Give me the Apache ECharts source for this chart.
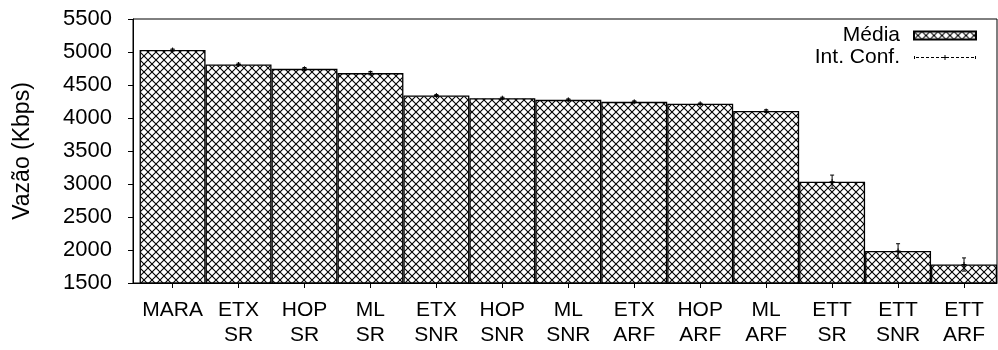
<!DOCTYPE html>
<html>
<head>
<meta charset="utf-8">
<script src="https://cdn.jsdelivr.net/npm/echarts@6/dist/echarts.min.js"></script>
<style>
html,body{margin:0;padding:0;background:#fff;}
#chart{width:998px;height:350px;}
</style>
</head>
<body>
<div id="chart"></div>
<script>
// ---- data ----
const categories = ['MARA', 'ETX\nSR', 'HOP\nSR', 'ML\nSR', 'ETX\nSNR', 'HOP\nSNR', 'ML\nSNR', 'ETX\nARF', 'HOP\nARF', 'ML\nARF', 'ETT\nSR', 'ETT\nSNR', 'ETT\nARF'];
const meanValues = [5030, 4810, 4745, 4680, 4340, 4300, 4275, 4245, 4215, 4105, 3035, 1985, 1780];
const ciHalf = [15, 20, 20, 25, 15, 15, 15, 15, 12, 20, 100, 110, 100];
const yTicks = [1500, 2000, 2500, 3000, 3500, 4000, 4500, 5000, 5500];
const yName = 'Vazão (Kbps)';
const legendNames = ['Média', 'Int. Conf.'];

// ---- crosshatch pattern ----
function makeHatch() {
  const s = 8;
  const c = document.createElement('canvas');
  c.width = s; c.height = s;
  const g = c.getContext('2d');
  g.fillStyle = '#fff';
  g.fillRect(0, 0, s, s);
  g.strokeStyle = '#000';
  g.lineWidth = 1.1;
  g.beginPath();
  g.moveTo(-1, -1); g.lineTo(s + 1, s + 1);
  g.moveTo(s + 1, -1); g.lineTo(-1, s + 1);
  g.stroke();
  return c;
}
const hatch = makeHatch();

// legend icon for the confidence interval (dashed line with + and end ticks)
function ciIcon() {
  let p = 'path://M0,0 M62,8 ';
  for (let x = 2; x < 60; x += 5) {
    p += 'M' + x + ',3.5 L' + (x + 3) + ',3.5 L' + (x + 3) + ',4.5 L' + x + ',4.5 Z ';
  }
  p += 'M0,2.5 L1,2.5 L1,5.5 L0,5.5 Z ';
  p += 'M61,2.5 L62,2.5 L62,5.5 L61,5.5 Z ';
  p += 'M30.5,1.5 L31.5,1.5 L31.5,6.5 L30.5,6.5 Z ';
  p += 'M28.5,3.5 L33.5,3.5 L33.5,4.5 L28.5,4.5 Z';
  return p;
}

const FONT = 'Liberation Sans';
const idx = categories.map((_, i) => i);
const barData = meanValues.map((v, i) => [i, v]);
const ciData = meanValues.map((v, i) => [i, v, v - ciHalf[i], v + ciHalf[i]]);

const chart = echarts.init(document.getElementById('chart'), null, {renderer: 'canvas'});
chart.setOption({
  animation: false,
  backgroundColor: '#fff',
  textStyle: {fontFamily: FONT},
  grid: {left: 133, right: 1, top: 19, bottom: 67, show: true, borderColor: '#000', borderWidth: 1, backgroundColor: 'transparent'},
  legend: {
    orient: 'vertical',
    right: 16,
    top: 20,
    align: 'right',
    itemWidth: 62,
    itemHeight: 8,
    itemGap: 1,
    symbolKeepAspect: false,
    textStyle: {fontFamily: FONT, fontSize: 21, color: '#000', padding: [0, 9, 0, 0]},
    data: [
      {name: legendNames[0], icon: 'rect'},
      {name: legendNames[1], icon: ciIcon()}
    ]
  },
  xAxis: {
    type: 'value',
    min: -0.6,
    max: 12.5,
    splitLine: {show: false},
    axisLine: {show: true, onZero: false, lineStyle: {color: '#000', width: 1}},
    axisTick: {show: true, customValues: idx, length: 5, inside: false, lineStyle: {color: '#000'}},
    axisLabel: {
      customValues: idx,
      formatter: v => categories[Math.round(v)],
      fontFamily: FONT, fontSize: 21, color: '#000', lineHeight: 25, margin: 15, align: 'center'
    }
  },
  yAxis: {
    type: 'value',
    min: yTicks[0],
    max: yTicks[yTicks.length - 1],
    interval: 500,
    name: yName,
    nameLocation: 'middle',
    nameRotate: 90,
    nameGap: 99,
    nameTextStyle: {fontFamily: FONT, fontSize: 23, color: '#000'},
    splitLine: {show: false},
    axisLine: {show: true, onZero: false, lineStyle: {color: '#000', width: 1}},
    axisTick: {show: true, length: 5, inside: false, lineStyle: {color: '#000'}},
    axisLabel: {fontFamily: FONT, fontSize: 22, color: '#000', margin: 21, formatter: v => String(v)}
  },
  series: [
    {
      name: legendNames[0],
      type: 'bar',
      data: barData,
      barWidth: '100%',
      itemStyle: {color: {image: hatch, repeat: 'repeat'}, borderColor: '#000', borderWidth: 1.3},
      emphasis: {disabled: true}
    },
    {
      name: legendNames[1],
      type: 'custom',
      data: ciData,
      itemStyle: {color: '#000'},
      z: 5,
      renderItem: function (params, api) {
        const x = api.value(0);
        const m = api.coord([x, api.value(1)]);
        const lo = api.coord([x, api.value(2)]);
        const hi = api.coord([x, api.value(3)]);
        const cap = 2;
        const ps = 2.5;
        const st = {stroke: '#000', lineWidth: 1, fill: null};
        return {
          type: 'group',
          children: [
            {type: 'line', shape: {x1: m[0], y1: lo[1], x2: m[0], y2: hi[1]}, style: st},
            {type: 'line', shape: {x1: m[0] - cap, y1: lo[1], x2: m[0] + cap, y2: lo[1]}, style: st},
            {type: 'line', shape: {x1: m[0] - cap, y1: hi[1], x2: m[0] + cap, y2: hi[1]}, style: st},
            {type: 'line', shape: {x1: m[0] - ps, y1: m[1], x2: m[0] + ps, y2: m[1]}, style: st},
            {type: 'line', shape: {x1: m[0], y1: m[1] - ps, x2: m[0], y2: m[1] + ps}, style: st}
          ]
        };
      }
    }
  ]
});
</script>
</body>
</html>
